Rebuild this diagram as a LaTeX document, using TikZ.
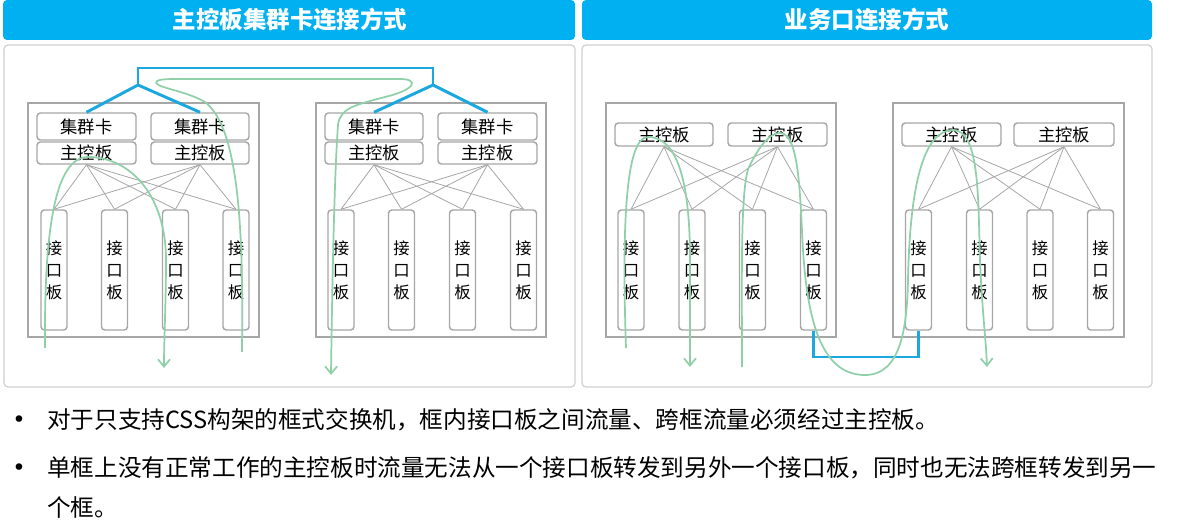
\documentclass[tikz,border=0pt]{standalone}
\usepackage{fontspec}
\setmainfont{Noto Sans CJK SC}
\newfontfamily\dejavu{DejaVu Sans}
\usetikzlibrary{arrows.meta,calc}
\definecolor{hdrblue}{HTML}{00B0F0}
\definecolor{lnblue}{HTML}{1BA8E0}
\definecolor{flow}{HTML}{8FD0A8}
\definecolor{frame}{HTML}{A6A6A6}
\definecolor{panelc}{HTML}{CFCFCF}
\tikzset{
  hdr/.style={fill=hdrblue, rounded corners=3pt, draw=none},
  hdrtext/.style={text=white, font=\fontsize{17.6}{20}\selectfont\bfseries},
  panelbox/.style={draw=panelc, line width=0.9pt, rounded corners=3pt},
  chassis/.style={draw=frame, line width=1.5pt},
  card/.style={draw=frame, line width=1.1pt, rounded corners=2.5pt, fill=white, inner sep=0pt, font=\fontsize{13}{14}\selectfont},
  ioboard/.style={draw=frame, line width=1.1pt, rounded corners=2.5pt, fill=white, inner sep=0pt,
     minimum width=26*0.75pt, minimum height=120*0.75pt, align=center, font=\fontsize{12.3}{16.5}\selectfont},
  mesh/.style={draw=frame, line width=0.6pt},
  flowline/.style={draw=flow, line width=1.3pt},
  flowarrow/.style={flowline, -{Straight Barb[length=5.5pt,width=9pt,line width=1.3pt]}},
  blueln/.style={draw=lnblue, line width=2.2pt},
  bodytext/.style={anchor=base west, inner sep=0pt, font=\fontsize{17.7}{20}\selectfont},
  bullet/.style={anchor=base, inner sep=0pt, font=\dejavu\fontsize{17}{20}\selectfont},
}
\begin{document}
\begin{tikzpicture}[x=0.75pt,y=-0.75pt]
\useasboundingbox (0,0) rectangle (1186,524);
% headers
\draw[hdr] (3,0) rectangle (575,40);
\draw[hdr] (582,0) rectangle (1152,40);
\node[hdrtext] (h1) at (290,20) {主控板集群卡连接方式};
\node[hdrtext] (h2) at (867,20) {业务口连接方式};
% panels
\draw[panelbox] (4,45) rectangle (575,387);
\draw[panelbox] (582,45) rectangle (1152,387);
% chassis
\draw[chassis] (28,103) rectangle (259,337);
\draw[chassis] (316,103) rectangle (546,337);
\draw[chassis] (606,103) rectangle (836,337);
\draw[chassis] (893,103) rectangle (1124,337);
% left panel cards
\foreach \n/\x/\w in {1/86.5/99, 2/200/98, 3/374/98, 4/487.5/99}{
  \node[card, minimum width=\w*0.75pt, minimum height=27*0.75pt] (jq\n) at (\x,126.5) {集群卡};
  \node[card, minimum width=\w*0.75pt, minimum height=22*0.75pt] (zk\n) at (\x,153) {主控板};
}
% right panel cards
\foreach \n/\x/\w in {5/664/98, 6/777.5/99, 7/951.5/99, 8/1064/100}{
  \node[card, minimum width=\w*0.75pt, minimum height=23*0.75pt] (zk\n) at (\x,134.5) {主控板};
}
% interface boards
\foreach \n/\x in {1/54, 2/114.5, 3/175.5, 4/236,
                   5/341, 6/401.5, 7/462.5, 8/523.5,
                   9/631, 10/692, 11/752.5, 12/813.5,
                   13/918.5, 14/979.5, 15/1040, 16/1100.5}{
  \node[ioboard] (io\n) at (\x,270) {接\\口\\板};
}
% mesh lines
\foreach \z/\a in {1/1,2/1,3/5,4/5,5/9,6/9,7/13,8/13}{
  \foreach \k in {0,1,2,3}{
    \pgfmathtruncatemacro{\b}{\a+\k}
    \draw[mesh] (zk\z.south) -- (io\b.north);
  }
}
% blue cluster links
\coordinate (j1) at (138,85);
\coordinate (j2) at (433,85);
\coordinate (jt1) at (138,68);
\coordinate (jt2) at (433,68);
\draw[blueln] (jq1.north) -- (j1) -- (jq2.north);
\draw[blueln] (jq3.north) -- (j2) -- (jq4.north);
\draw[blueln] (j1) -- (jt1) -- (jt2) -- (j2);
% blue service link
\coordinate (bl) at (0,357);
\draw[blueln] (io12.south) -- (io12.south |- bl) -| (io13.south);
% green flows
\coordinate (fa0) at (45,348);
\coordinate (fa1) at (164,368);
\draw[flowarrow] (fa0) .. controls (44,230) and (55,157) .. (88,157)
   .. controls (130,157) and (166,195) .. (166,260) .. controls (166,300) and (164,340) .. (fa1);
\coordinate (fb0) at (242,352);
\coordinate (fb1) at (331,375);
\draw[flowarrow] (fb0) .. controls (243,250) and (242,130) .. (205,102)
   .. controls (185,90) and (150,87) .. (157,81) .. controls (160,79) and (170,79) .. (180,79)
   -- (400,79) .. controls (420,79) and (415,90) .. (385,97)
   .. controls (355,105) and (340,108) .. (338,125) .. controls (334,180) and (332,300) .. (fb1);
\coordinate (fc0) at (626,348);
\coordinate (fc1) at (690,367);
\draw[flowarrow] (fc0) .. controls (622,230) and (625,137) .. (648,137)
   .. controls (680,137) and (690,190) .. (690,260) -- (fc1);
\coordinate (fd0) at (742,367);
\coordinate (fd1) at (987,367);
\draw[flowarrow] (fd0) .. controls (742,280) and (740,180) .. (750,165)
   .. controls (760,145) and (770,133) .. (780,133)
   .. controls (800,133) and (800,200) .. (803,250)
   .. controls (808,330) and (825,375) .. (865,375)
   .. controls (900,375) and (907,330) .. (908,280)
   .. controls (910,180) and (925,130) .. (953,130)
   .. controls (980,130) and (978,200) .. (980,260)
   .. controls (982,310) and (986,340) .. (fd1);
% bottom text
\node[bullet] (b1) at (19,427) {•};
\node[bodytext] (t1) at (47,428) {对于只支持CSS构架的框式交换机，框内接口板之间流量、跨框流量必须经过主控板。};
\node[bullet] (b2) at (19,475) {•};
\node[bodytext] (t2) at (47,476) {单框上没有正常工作的主控板时流量无法从一个接口板转发到另外一个接口板，同时也无法跨框转发到另一};
\node[bodytext] (t3) at (47,516) {个框。};
\end{tikzpicture}
\end{document}
